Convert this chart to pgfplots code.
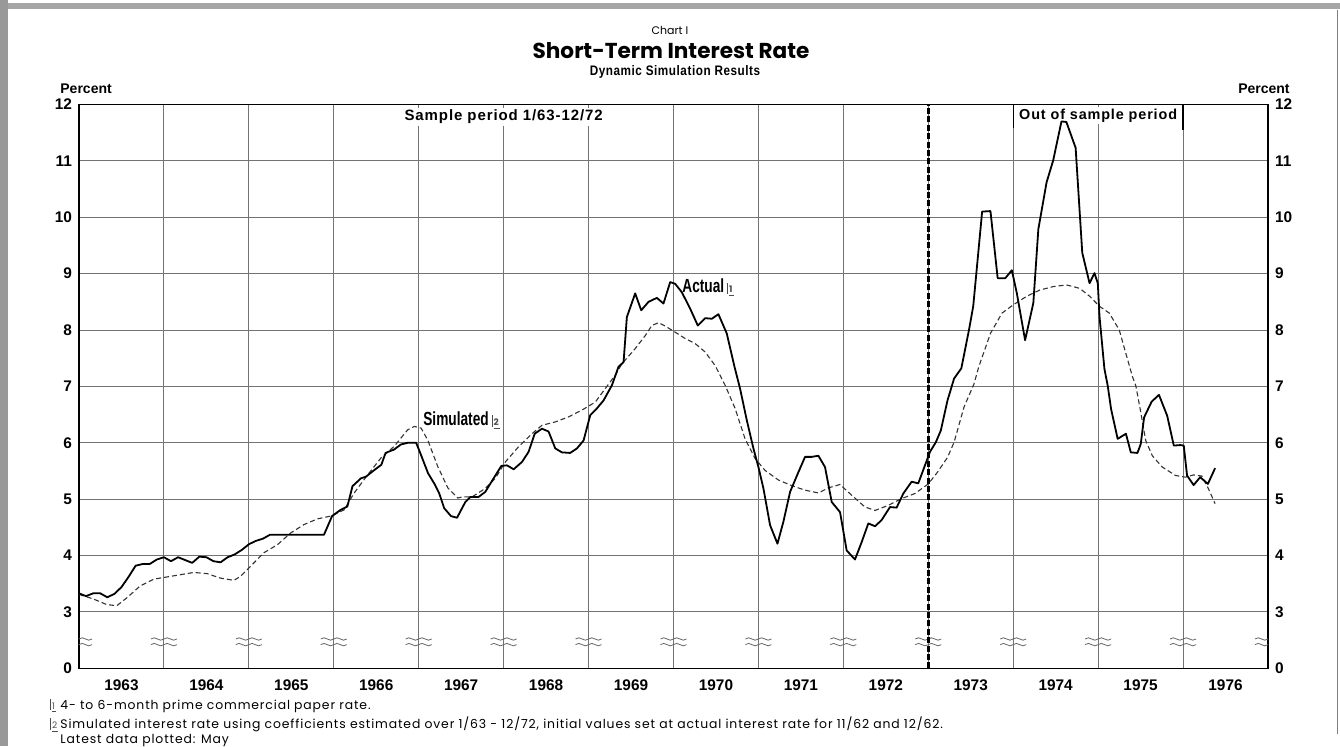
\documentclass[border=0pt]{standalone}
\usepackage{pgfplots}
\pgfplotsset{compat=1.18}
\usepackage{fontspec}
\setmainfont{Liberation Sans}
\newfontfamily\lab[LetterSpace=6]{Liberation Sans}
\newfontfamily\labs[FakeStretch=0.85,LetterSpace=4]{Liberation Sans}
\newfontfamily\labc[FakeStretch=0.72]{Liberation Sans}
\newfontfamily\fut{Poppins}
\newfontfamily\futs[LetterSpace=7]{Poppins}
\newcommand\fnbox[1]{{\color{black!70}\vrule width 0.35pt height 5pt depth 0.7pt\kern0.5pt\underline{\fontsize{4.5}{5}\fut\selectfont #1\kern0.6pt}}}

\pgfplotstableread{
t v
1963.000 3.33
1963.083 3.28
1963.167 3.33
1963.250 3.33
1963.333 3.26
1963.417 3.32
1963.500 3.44
1963.583 3.62
1963.667 3.82
1963.750 3.85
1963.833 3.85
1963.917 3.93
1964.000 3.97
1964.083 3.90
1964.167 3.97
1964.250 3.92
1964.333 3.87
1964.417 3.98
1964.500 3.97
1964.583 3.90
1964.667 3.88
1964.750 3.97
1964.833 4.02
1964.917 4.10
1965.000 4.20
1965.083 4.26
1965.167 4.30
1965.250 4.37
1965.885 4.37
1965.980 4.70
1966.080 4.81
1966.160 4.87
1966.220 5.23
1966.320 5.37
1966.380 5.40
1966.480 5.52
1966.560 5.61
1966.610 5.82
1966.710 5.88
1966.790 5.97
1966.870 6.00
1966.970 6.00
1967.010 5.85
1967.110 5.46
1967.190 5.26
1967.240 5.11
1967.300 4.84
1967.380 4.70
1967.451 4.67
1967.549 4.95
1967.608 5.04
1967.706 5.04
1967.784 5.13
1967.882 5.37
1967.973 5.59
1968.039 5.60
1968.118 5.53
1968.216 5.66
1968.294 5.84
1968.365 6.16
1968.451 6.25
1968.529 6.20
1968.608 5.90
1968.686 5.83
1968.784 5.82
1968.863 5.90
1968.941 6.04
1969.020 6.49
1969.098 6.61
1969.176 6.75
1969.275 7.02
1969.353 7.35
1969.412 7.43
1969.451 8.23
1969.549 8.65
1969.620 8.35
1969.706 8.50
1969.804 8.57
1969.882 8.47
1969.961 8.85
1970.020 8.82
1970.098 8.67
1970.196 8.38
1970.286 8.08
1970.373 8.21
1970.451 8.20
1970.529 8.28
1970.627 7.94
1970.718 7.35
1970.784 6.96
1970.863 6.40
1970.941 5.90
1971.000 5.57
1971.059 5.19
1971.137 4.54
1971.224 4.21
1971.294 4.60
1971.373 5.13
1971.471 5.48
1971.549 5.75
1971.627 5.75
1971.706 5.77
1971.784 5.57
1971.863 4.95
1971.961 4.77
1972.039 4.09
1972.137 3.93
1972.216 4.24
1972.294 4.57
1972.373 4.52
1972.451 4.63
1972.549 4.86
1972.627 4.85
1972.706 5.10
1972.804 5.31
1972.882 5.28
1972.961 5.60
1973.020 5.84
1973.089 6.01
1973.148 6.22
1973.226 6.75
1973.304 7.14
1973.389 7.32
1973.479 8.00
1973.529 8.42
1973.568 9.04
1973.634 10.10
1973.732 10.11
1973.817 8.92
1973.907 8.92
1973.984 9.06
1974.043 8.65
1974.140 7.82
1974.237 8.48
1974.296 9.79
1974.393 10.62
1974.471 11.01
1974.568 11.70
1974.626 11.69
1974.735 11.23
1974.813 9.37
1974.899 8.83
1974.957 9.01
1974.996 8.83
1975.016 8.24
1975.074 7.31
1975.113 7.01
1975.152 6.60
1975.230 6.07
1975.327 6.16
1975.385 5.83
1975.463 5.82
1975.502 5.98
1975.541 6.45
1975.630 6.73
1975.716 6.85
1975.813 6.48
1975.891 5.95
1975.969 5.96
1976.008 5.95
1976.047 5.42
1976.124 5.25
1976.202 5.39
1976.292 5.27
1976.377 5.55
}\actual

\pgfplotstableread{
t v
1963.000 3.31
1963.169 3.23
1963.327 3.13
1963.445 3.11
1963.563 3.25
1963.720 3.46
1963.878 3.58
1964.035 3.62
1964.193 3.66
1964.350 3.70
1964.508 3.68
1964.665 3.60
1964.823 3.56
1964.902 3.63
1965.020 3.81
1965.177 4.05
1965.335 4.19
1965.492 4.40
1965.650 4.55
1965.807 4.65
1965.965 4.70
1966.122 4.81
1966.240 5.11
1966.398 5.43
1966.555 5.73
1966.713 5.94
1966.870 6.23
1966.949 6.29
1967.028 6.26
1967.106 6.05
1967.224 5.58
1967.343 5.20
1967.461 5.02
1967.510 5.04
1967.627 5.04
1967.784 5.19
1967.902 5.37
1968.020 5.66
1968.176 5.93
1968.333 6.16
1968.451 6.31
1968.608 6.37
1968.765 6.46
1968.922 6.58
1969.078 6.72
1969.196 6.96
1969.314 7.20
1969.392 7.40
1969.549 7.67
1969.667 7.90
1969.745 8.08
1969.824 8.13
1969.902 8.07
1970.000 7.98
1970.137 7.85
1970.255 7.76
1970.373 7.61
1970.490 7.37
1970.608 7.02
1970.725 6.61
1970.843 6.07
1970.961 5.72
1971.078 5.51
1971.235 5.34
1971.392 5.24
1971.549 5.16
1971.706 5.11
1971.824 5.20
1971.961 5.26
1972.098 5.07
1972.255 4.86
1972.373 4.80
1972.529 4.89
1972.686 5.01
1972.843 5.10
1973.000 5.27
1973.109 5.48
1973.226 5.74
1973.304 6.01
1973.420 6.63
1973.537 7.04
1973.595 7.35
1973.732 7.94
1973.868 8.30
1974.004 8.45
1974.160 8.60
1974.315 8.71
1974.471 8.77
1974.626 8.80
1974.782 8.74
1974.899 8.60
1975.016 8.42
1975.132 8.30
1975.249 8.00
1975.327 7.58
1975.405 7.17
1975.444 7.01
1975.502 6.54
1975.560 6.04
1975.638 5.77
1975.755 5.57
1975.911 5.42
1976.027 5.39
1976.124 5.43
1976.222 5.41
1976.300 5.18
1976.377 4.92
}\simulated

\begin{document}
\begin{tikzpicture}
\path[use as bounding box] (-39.5pt,-38.85pt) rectangle (630.5pt,334.15pt);
\fill[black!35] (-39.5pt,329.65pt) rectangle (630.5pt,332.65pt);
\fill[black!40] (-39.5pt,-38.85pt) rectangle (-35.5pt,334.15pt);
\draw[black!50,line width=0.4pt] (629pt,329pt) -- (629pt,-33pt);

\begin{axis}[
  at={(0pt,0pt)}, anchor=south west, scale only axis,
  width=594.5pt, height=281.9pt,
  xmin=1963, xmax=1977, ymin=2, ymax=12,
  xtick={1963.5,1964.5,1965.5,1966.5,1967.5,1968.5,1969.5,1970.5,1971.5,1972.5,1973.5,1974.5,1975.5,1976.5},
  xticklabels={1963,1964,1965,1966,1967,1968,1969,1970,1971,1972,1973,1974,1975,1976},
  minor xtick={1964,1965,1966,1967,1968,1969,1970,1971,1972,1973,1974,1975,1976},
  xminorgrids=true,
  ytick={2,3,4,5,6,7,8,9,10,11,12},
  yticklabels={0,3,4,5,6,7,8,9,10,11,12},
  ymajorgrids=true,
  major tick length=0pt, minor tick length=0pt,
  axis line style={black,line width=0.7pt},
  major grid style={black!55,line width=0.45pt},
  minor grid style={black!55,line width=0.45pt},
  tick label style={font=\bfseries\fontsize{7.7}{9}\selectfont},
  xticklabel style={yshift=-2pt},
]
\pgfplotsinvokeforeach{1963,1964,1965,1966,1967,1968,1969,1970,1971,1972,1973,1974,1975,1976,1977}{
  \draw[black!60,line width=0.4pt] (axis cs:#1,2.52) ++(-6.5pt,0pt) sin ++(1.625pt,0.6pt) cos ++(1.625pt,-0.6pt) sin ++(1.625pt,-0.6pt) cos ++(1.625pt,0.6pt) sin ++(1.625pt,0.6pt) cos ++(1.625pt,-0.6pt) sin ++(1.625pt,-0.6pt) cos ++(1.625pt,0.6pt);
  \draw[black!60,line width=0.4pt] (axis cs:#1,2.42) ++(-6.5pt,0pt) sin ++(1.625pt,0.6pt) cos ++(1.625pt,-0.6pt) sin ++(1.625pt,-0.6pt) cos ++(1.625pt,0.6pt) sin ++(1.625pt,0.6pt) cos ++(1.625pt,-0.6pt) sin ++(1.625pt,-0.6pt) cos ++(1.625pt,0.6pt);
}
\node[fill=white,inner sep=1pt,font=\lab\bfseries\fontsize{7.5}{9}\selectfont] at (axis cs:1968,11.78) {Sample period 1/63-12/72};
\node[fill=white,inner sep=1pt,font=\lab\bfseries\fontsize{7.2}{9}\selectfont] at (axis cs:1975,11.80) {Out of sample period};
\draw[black,line width=0.6pt] (axis cs:1974,12) -- (axis cs:1974,11.58);
\draw[black,line width=0.6pt] (axis cs:1976,12) -- (axis cs:1976,11.55);
\draw[black,line width=1.3pt,dash pattern=on 3pt off 1.2pt] (axis cs:1973,2) -- (axis cs:1973,12);
\node[anchor=west,inner sep=0pt,font=\labc\bfseries\fontsize{9.5}{11}\selectfont] at (axis cs:1970.10,8.75) {Actual\,\fnbox{1}};
\node[anchor=west,inner sep=0pt,font=\labc\bfseries\fontsize{9.5}{11}\selectfont] at (axis cs:1967.05,6.40) {Simulated\,\fnbox{2}};
\addplot[black!80,line width=0.55pt,dash pattern=on 2.5pt off 1.5pt] table[x=t,y=v] {\simulated};
\addplot[black,line width=0.9pt,line join=round] table[x=t,y=v] {\actual};
\end{axis}

\begin{axis}[
  at={(0pt,0pt)}, anchor=south west, scale only axis,
  width=594.5pt, height=281.9pt,
  xmin=1963, xmax=1977, ymin=2, ymax=12,
  hide x axis, axis y line*=right,
  y axis line style={draw=none},
  ytick={2,3,4,5,6,7,8,9,10,11,12},
  yticklabels={0,3,4,5,6,7,8,9,10,11,12},
  major tick length=0pt,
  yticklabel style={anchor=west,font=\bfseries\fontsize{7.7}{9}\selectfont},
]
\addplot[draw=none] coordinates {(1963,5)};
\end{axis}

\node[font=\fut\fontsize{5.5}{6}\selectfont] at (295.5pt,318.7pt) {Chart I};
\node[font=\fut\bfseries\fontsize{10.8}{12}\selectfont] at (296pt,308.7pt) {Short-Term Interest Rate};
\node[font=\labs\bfseries\fontsize{6.9}{8}\selectfont] at (298pt,298.2pt) {Dynamic Simulation Results};
\node[anchor=base west,inner sep=0pt,font=\bfseries\fontsize{7}{8}\selectfont] at (-9.5pt,287.4pt) {Percent};
\node[anchor=base east,inner sep=0pt,font=\bfseries\fontsize{7}{8}\selectfont] at (605.5pt,287.4pt) {Percent};
\node[anchor=base west,inner sep=0pt,font=\futs\fontsize{6.2}{7}\selectfont] at (-14.5pt,-20.35pt) {\makebox[5pt][l]{\fnbox{1}}4- to 6-month prime commercial paper rate.};
\node[anchor=base west,inner sep=0pt,font=\futs\fontsize{6.2}{7}\selectfont] at (-14.5pt,-29.9pt) {\makebox[5pt][l]{\fnbox{2}}Simulated interest rate using coefficients estimated over 1/63 - 12/72, initial values set at actual interest rate for 11/62 and 12/62.};
\node[anchor=base west,inner sep=0pt,font=\futs\fontsize{6.2}{7}\selectfont] at (-9.5pt,-37.6pt) {Latest data plotted: May};
\end{tikzpicture}
\end{document}
